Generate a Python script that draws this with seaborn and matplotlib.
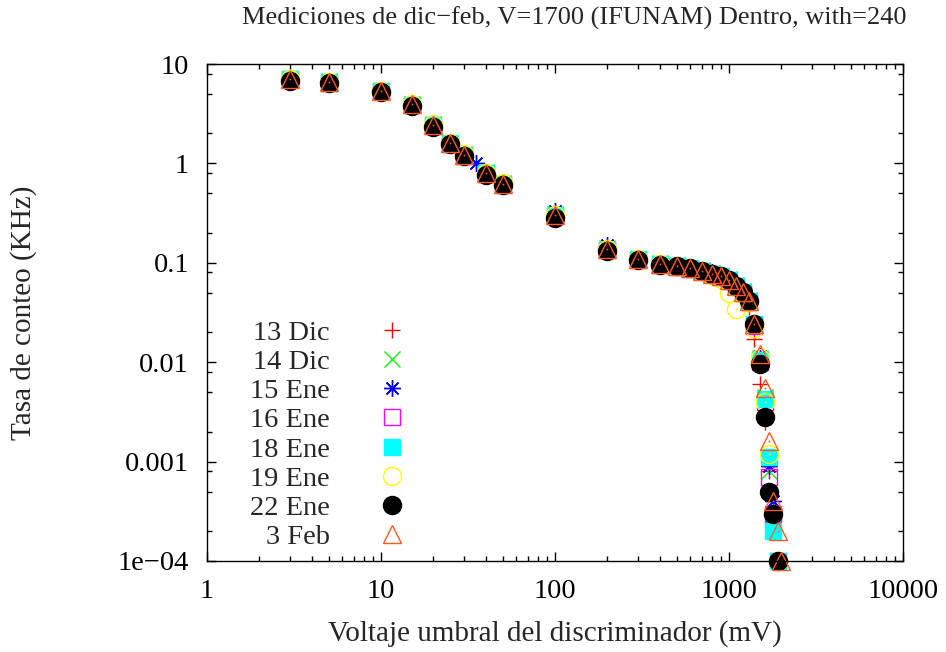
import matplotlib
matplotlib.use("Agg")
import matplotlib.pyplot as plt
import matplotlib.ticker as mticker
import seaborn as sns
import pandas as pd

# umbral del discriminador (mV)
x_base = [3, 5, 10, 15, 20, 25, 30, 40, 50, 100, 200, 300, 400, 500, 600, 700,
          800, 900, 1000, 1100, 1200, 1300, 1400, 1500, 1600, 1700, 1800, 1900]
x_ene15 = [3, 5, 10, 15, 20, 25, 30, 35, 50, 100, 200, 300, 400, 500, 600, 700,
           800, 900, 1000, 1100, 1200, 1300, 1400, 1500, 1600, 1700, 1800, 1900]
x_feb3 = x_base + [2000]

# tasa de conteo (KHz)
dic13 = [7.0, 6.6, 5.3, 3.9, 2.45, 1.6, 1.22, 0.80, 0.62, 0.30, 0.137, 0.108, 0.097, 0.092,
         0.087, 0.082, 0.077, 0.071, 0.064, 0.056, 0.047, 0.036, 0.017, 0.006, 0.0025,
         0.0008, 0.0003, 0.0001]
dic14 = [7.1, 6.7, 5.4, 3.95, 2.5, 1.62, 1.24, 0.81, 0.63, 0.31, 0.14, 0.11, 0.099, 0.094,
         0.089, 0.084, 0.079, 0.074, 0.068, 0.060, 0.052, 0.042, 0.024, 0.011, 0.0045,
         0.0008, 0.0003, 0.0001]
ene15 = [7.2, 6.7, 5.5, 4.0, 2.5, 1.62, 1.25, 1.0, 0.64, 0.33, 0.15, 0.11, 0.10, 0.095,
         0.09, 0.085, 0.08, 0.075, 0.069, 0.061, 0.053, 0.043, 0.025, 0.0115, 0.0042,
         0.0009, 0.0004, 0.0001]
ene16 = [7.0, 6.5, 5.3, 3.85, 2.4, 1.58, 1.2, 0.79, 0.61, 0.295, 0.133, 0.106, 0.096, 0.091,
         0.087, 0.082, 0.077, 0.072, 0.066, 0.058, 0.050, 0.040, 0.023, 0.010, 0.004,
         0.0007, 0.0003, 0.0001]
ene18 = [7.1, 6.6, 5.35, 3.9, 2.45, 1.6, 1.22, 0.80, 0.62, 0.30, 0.136, 0.108, 0.098, 0.093,
         0.088, 0.083, 0.078, 0.073, 0.067, 0.059, 0.051, 0.041, 0.024, 0.0105, 0.0043,
         0.0011, 0.0002, 0.0001]
ene19 = [7.1, 6.6, 5.4, 3.95, 2.5, 1.6, 1.23, 0.80, 0.63, 0.30, 0.138, 0.109, 0.098, 0.093,
         0.088, 0.082, 0.076, 0.068, 0.050, 0.034, 0.049, 0.040, 0.022, 0.011, 0.004,
         0.0012, 0.0003, 0.0001]
ene22 = [6.8, 6.4, 5.2, 3.8, 2.35, 1.55, 1.18, 0.77, 0.60, 0.285, 0.132, 0.106, 0.096, 0.092,
         0.088, 0.083, 0.078, 0.073, 0.067, 0.059, 0.051, 0.041, 0.024, 0.0095, 0.0028,
         0.0005, 0.0003, 0.0001]
feb3 = [7.1, 6.6, 5.35, 3.92, 2.45, 1.6, 1.22, 0.80, 0.62, 0.30, 0.137, 0.108, 0.098, 0.093,
        0.088, 0.083, 0.078, 0.073, 0.067, 0.059, 0.051, 0.041, 0.024, 0.012, 0.0055,
        0.0016, 0.0004, 0.0002, 0.0001]

labels = ['13 Dic', '14 Dic', '15 Ene', '16 Ene', '18 Ene', '19 Ene', '22 Ene', '3 Feb']
xs = [x_base, x_base, x_ene15, x_base, x_base, x_base, x_base, x_feb3]
ys = [dic13, dic14, ene15, ene16, ene18, ene19, ene22, feb3]
colores = ['#ff0000', '#00ff00', '#0000ff', '#ff00ff', '#00ffff', '#ffff00', '#000000', '#ff5a1e']
marcas = ['+', 'x', (8, 2, 0), 's', 's', 'o', 'o', '^']
rellenos = [True, True, True, False, True, False, True, False]

sns.set_theme(style='ticks')
plt.rcParams['font.family'] = ['Liberation Serif', 'DejaVu Serif']
plt.rcParams['axes.unicode_minus'] = True

fig = plt.figure(figsize=(9.46, 6.52), dpi=100)
ax = fig.add_axes([207 / 946, 1 - 561 / 652, 696 / 946, 497 / 652])

for lab, xv, yv, c, m, f in zip(labels, xs, ys, colores, marcas, rellenos):
    df = pd.DataFrame({'x': xv, 'y': yv})
    ms = 12 if m not in ('o', '^') else 13
    sns.lineplot(data=df, x='x', y='y', ax=ax, label=lab, linestyle='none',
                 marker=m, markersize=ms, color=c, markeredgecolor=c,
                 markerfacecolor=c if f else 'none', markeredgewidth=1.0,
                 clip_on=False, sort=False, estimator=None)
    if not f:
        # punto central de los simbolos abiertos (estilo gnuplot)
        sns.lineplot(data=df, x='x', y='y', ax=ax, linestyle='none', marker='s',
                     markersize=1.2, color=c, markeredgecolor=c, markeredgewidth=0,
                     clip_on=False, sort=False, estimator=None, legend=False)

ax.set_xscale('log')
ax.set_yscale('log')
ax.set_xlim(1, 10000)
ax.set_ylim(1e-4, 10)

ax.set_xticks([1, 10, 100, 1000, 10000])
ax.set_xticklabels(['1', '10', '100', '1000', '10000'])
ax.set_yticks([1e-4, 1e-3, 1e-2, 0.1, 1, 10])
ax.set_yticklabels(['1e\u221204', '0.001', '0.01', '0.1', '1', '10'])
ax.xaxis.set_minor_locator(mticker.LogLocator(base=10, subs=[2, 3, 4, 5, 6, 7, 8, 9]))
ax.yaxis.set_minor_locator(mticker.LogLocator(base=10, subs=[2, 5, 8]))
ax.xaxis.set_minor_formatter(mticker.NullFormatter())
ax.yaxis.set_minor_formatter(mticker.NullFormatter())

ax.tick_params(which='both', direction='in', top=True, right=True, colors='black',
               labelsize=20.5)
ax.tick_params(which='major', length=6.5, width=1.0)
ax.tick_params(which='minor', length=3.4, width=1.0)
ax.tick_params(axis='x', which='major', pad=13)
ax.tick_params(axis='y', which='major', pad=13)
for s in ax.spines.values():
    s.set_linewidth(1.0)
    s.set_color('black')

ax.set_xlabel('Voltaje umbral del discriminador (mV)', fontsize=21)
ax.set_ylabel('Tasa de conteo (KHz)', fontsize=21)
ax.xaxis.set_label_coords(0.5, (561 - 620) / 497)
ax.yaxis.set_label_coords((37 - 207) / 696, 0.5)
fig.text(574 / 946, 1 - 18 / 652, 'Mediciones de dic\u2212feb, V=1700 (IFUNAM) Dentro, with=240',
         ha='center', va='center', fontsize=19)

handles, _ = ax.get_legend_handles_labels()
leg = ax.legend(handles[:8], labels, loc='center right', bbox_to_anchor=(0.2848, 0.2535),
                frameon=False, markerfirst=False, fontsize=20.5, handlelength=0.93,
                handletextpad=1.72, labelspacing=0.115, borderpad=0, borderaxespad=0)

fig.savefig('out.png', dpi=100)
